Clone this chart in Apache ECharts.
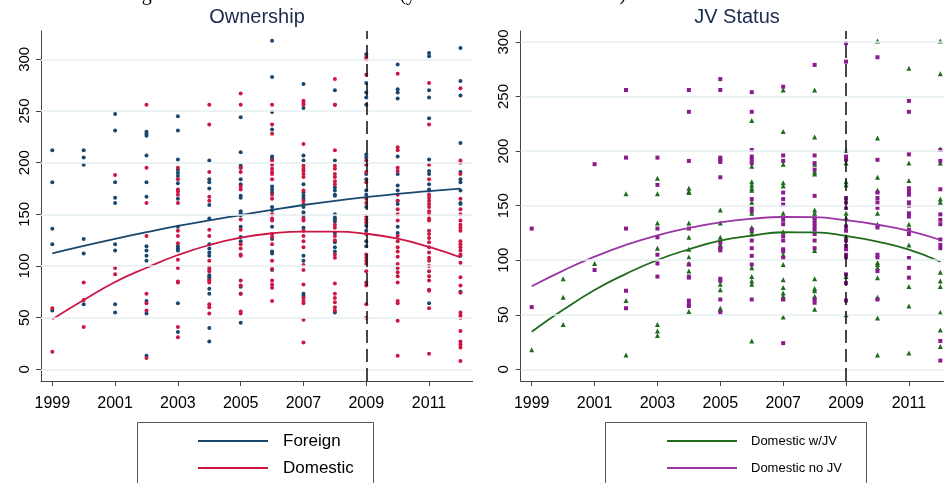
<!DOCTYPE html>
<html><head><meta charset="utf-8">
<script src="https://cdn.jsdelivr.net/npm/echarts@6/dist/echarts.min.js"></script>
<style>html,body{margin:0;padding:0;background:#fff;overflow:hidden}#c{width:944px;height:483px}</style>
</head><body><div id="c"></div>
<script>
const years = [1999,2000,2001,2002,2003,2004,2005,2006,2007,2008,2009,2010,2011,2012];
const xTicks = [1999,2001,2003,2005,2007,2009,2011];
const yTicks = [0,50,100,150,200,250,300];
const breakYear = 2009;
const legendLeft = ['Foreign','Domestic'];
const legendRight = ['Domestic w/JV','Domestic no JV'];

// Left panel: Ownership
const foreignPts = [
  [212,181,136,121,57],
  [212,205,198,126,112,63],
  [247,231,181,166,161,121,115,63,55],
  [230,228,226,207,181,167,119,115,110,105,66,54,13],
  [245,231,203,193,190,187,180,165,138,119,117,115,64,36],
  [202,184,181,175,159,146,121,117,113,110,91,89,87,78,73,40,27],
  [244,210,197,195,184,179,168,166,153,151,149,138,128,124,80,73,45],
  [318,283,249,232,206,204,177,174,171,157,154,138,126,114,112,96],
  [276,253,207,202,179,171,168,165,157,152,149,137,110,105,73,71],
  [270,256,202,176,173,169,168,150,147,145,143,132,123,118,114,55],
  [305,277,268,263,256,208,205,189,184,173,169,157,139,134,124,119],
  [295,271,268,262,206,189,178,173,163,160,138,132],
  [306,303,270,263,243,203,192,189,179,174,173,64],
  [311,279,265,219,191,184,181,173,161,160,110,75]
];
const domesticPts = [
  [59,17],
  [84,67,41],
  [188,98,92],
  [256,195,161,129,73,64,57,11],
  [195,184,174,172,169,161,134,129,122,106,98,85,84,41,31],
  [256,237,191,167,163,135,129,105,99,97,95,86,84,63,60,54],
  [267,256,195,191,177,174,145,135,121,117,111,110,86,81,73,56,54],
  [256,237,228,202,198,194,191,189,184,169,165,150,146,144,131,128,121,105,97,86,82,79,66],
  [260,258,256,218,197,194,192,189,186,173,163,160,146,144,134,129,124,118,101,96,82,69,66,64,48,26],
  [281,256,212,197,194,189,186,182,179,140,137,129,125,111,108,83,73,69,65,60,57],
  [302,300,285,202,198,191,181,165,161,148,145,142,131,111,108,105,102,95,84,81,63,50],
  [286,215,212,195,192,169,163,155,150,144,129,124,118,114,109,102,98,94,90,84,66,64,47,13],
  [277,237,198,184,169,166,163,160,157,153,150,146,144,134,131,127,123,118,113,108,105,100,95,90,86,77,76,59,15],
  [272,202,200,189,165,155,150,144,140,137,134,124,121,118,115,111,103,89,81,74,55,52,50,37,27,24,21,8]
];
const foreignFit  = [112.3,119.5,126.3,132.7,138.7,144.2,149.3,154.3,159.0,163.0,166.6,169.8,172.5,174.8];
const domesticFit = [48.4,67.0,84.5,98.3,110.6,120.3,127.4,131.6,133.2,133.2,131.2,126.4,118.4,108.4];

// Right panel: JV Status
const withJVPts = [
  [18],
  [83,66,41],
  [97],
  [161,63,13],
  [175,161,134,111,41,35,31],
  [166,163,162,134,121,110,103,97,90,53],
  [146,134,121,114,113,78,73,56,55],
  [228,186,172,169,166,164,153,143,130,127,124,93,85,81,78,26],
  [256,218,188,171,168,143,126,105,96,82,75,70,67,65,48],
  [256,213,188,181,179,146,143,140,109,83,74,72,67,55],
  [201,189,172,169,143,139,122,85,50],
  [301,212,176,164,143,133,98,96,93,84,66,47,13],
  [276,189,173,133,114,76,58,15],
  [301,271,202,189,156,153,89,81,76,52,36,21]
];
const noJVPts = [
  [129,57],
  [],
  [188,91],
  [256,194,129,72,56],
  [194,169,129,121,105,97,85],
  [256,236,191,129,96,85,84,63,60,58],
  [266,256,194,192,190,176,116,111,109,83,81,64,52],
  [254,236,201,195,192,189,156,148,145,128,118,111,104,96,64],
  [259,196,191,162,156,151,137,133,122,118,110,108,102,64,24],
  [279,196,189,183,159,137,134,131,128,124,118,111,64,61],
  [299,282,195,192,157,153,148,131,127,118,113,110,105,102,87,79,63],
  [286,192,162,157,153,148,130,105,102,90,64],
  [246,236,197,166,163,160,153,150,143,140,128,124,102,93,84],
  [201,191,165,142,137,133,119,114,111,26,8]
];
const withJVFit = [34.5,54.5,72.7,87.5,100.2,110.0,117.9,122.5,125.6,125.5,122.2,117.0,109.6,98.6];
const noJVFit   = [76.1,90.5,103.2,114.0,122.8,129.5,134.7,138.0,139.6,139.4,136.6,132.5,126.8,118.5];

const C = {foreign:'#1a476f', domestic:'#cc1744', green:'#1e6b1e', purple:'#8b1b8e', purpleLine:'#9a35a4', axis:'#444'};
const FONT = '"Liberation Sans", Arial, sans-serif';

function pts(arr){const o=[];arr.forEach((vals,i)=>vals.forEach(v=>o.push([years[i],v])));return o;}
function fit(arr){return years.map((y,i)=>[y,arr[i]]);}

function xAxis(gi,min,max){
  return {type:'value',gridIndex:gi,min:min,max:max,
    axisLine:{show:true,onZero:false,lineStyle:{color:C.axis,width:1}},
    axisTick:{show:true,customValues:xTicks,length:5,lineStyle:{color:C.axis}},
    axisLabel:{customValues:xTicks,formatter:v=>String(v),color:'#000',fontSize:16,fontFamily:FONT,margin:15},
    splitLine:{show:false}};
}
function yAxis(gi,min,max){
  return {type:'value',gridIndex:gi,min:min,max:max,
    axisLine:{show:true,onZero:false,lineStyle:{color:C.axis,width:1}},
    axisTick:{show:true,customValues:yTicks,length:5,lineStyle:{color:C.axis}},
    axisLabel:{customValues:yTicks,formatter:v=>String(v),rotate:90,color:'#000',fontSize:15,fontFamily:FONT,margin:9},
    splitLine:{show:false}};
}
function gridSeries(gi){
  return {type:'line',xAxisIndex:gi,yAxisIndex:gi,data:[[2000,0]],showSymbol:false,silent:true,
    lineStyle:{opacity:0},z:1,
    markLine:{silent:true,symbol:'none',label:{show:false},animation:false,
      lineStyle:{color:'#e6eff1',width:1.5,type:'solid'},
      data:yTicks.map(v=>({yAxis:v}))}};
}
function dashSeries(gi){
  return {type:'line',xAxisIndex:gi,yAxisIndex:gi,data:[[2000,0]],showSymbol:false,silent:true,
    lineStyle:{opacity:0},z:5,
    markLine:{silent:true,symbol:'none',label:{show:false},animation:false,
      lineStyle:{color:'#1a1a1a',width:1.6,type:[13,6]},
      data:[{xAxis:breakYear}]}};
}
function scatter(name,gi,data,color,symbol,size){
  return {name:name,type:'scatter',xAxisIndex:gi,yAxisIndex:gi,data:pts(data),symbol:symbol,symbolSize:size,
    itemStyle:{color:color,opacity:1},z:3,silent:true};
}
function fitLine(name,gi,data,color){
  return {name:name,type:'line',xAxisIndex:gi,yAxisIndex:gi,data:fit(data),smooth:true,showSymbol:false,
    lineStyle:{color:color,width:1.8},itemStyle:{color:color},z:4,silent:true};
}
function legendBox(x,w,names,colors,fontSize,lineX,textX){
  const els=[{type:'rect',shape:{x:x+0.5,y:422.5,width:w,height:90},style:{fill:'#fff',stroke:'#555',lineWidth:1},z:10}];
  names.forEach((n,i)=>{
    const y=441+i*27;
    els.push({type:'line',shape:{x1:lineX,y1:y,x2:lineX+70,y2:y},style:{stroke:colors[i],lineWidth:1.8},z:11});
    els.push({type:'text',x:textX,y:y,style:{text:n,font:fontSize+'px '+FONT,fill:'#000',verticalAlign:'middle'},z:11});
  });
  return els;
}

const chart = echarts.init(document.getElementById('c'),null,{renderer:'canvas'});
chart.setOption({
  animation:false,
  backgroundColor:'#fff',
  grid:[
    {left:41,top:31,width:431.7,height:350,outerBoundsMode:'none',containLabel:false},
    {left:520.7,top:31,width:431.9,height:350,outerBoundsMode:'none',containLabel:false}
  ],
  xAxis:[xAxis(0,1998.64,2012.39),xAxis(1,1998.65,2012.39)],
  yAxis:[yAxis(0,-11.32,327.4),yAxis(1,-10.72,310.07)],
  graphic:[
    {type:'text',x:257,y:17,style:{text:'Ownership',font:'20px '+FONT,fill:'#1c2a50',align:'center',verticalAlign:'middle'}},
    {type:'text',x:737,y:17,style:{text:'JV Status',font:'20px '+FONT,fill:'#1c2a50',align:'center',verticalAlign:'middle'}},
    {type:'text',x:125,y:5,style:{text:'Figure 3: Model Rank Relative to (year fixed effects removed)',font:'20px "Liberation Serif", serif',fill:'#000',align:'left',verticalAlign:'bottom'}}
  ].concat(
    legendBox(137,236,legendLeft,[C.foreign,C.domestic],17,198,283),
    legendBox(605,261,legendRight,[C.green,C.purpleLine],13,667,751)
  ),
  series:[
    gridSeries(0),gridSeries(1),
    scatter('Foreign pts',0,foreignPts,C.foreign,'circle',4),
    scatter('Domestic pts',0,domesticPts,C.domestic,'circle',4),
    scatter('w/JV pts',1,withJVPts,C.green,'triangle',5),
    scatter('no JV pts',1,noJVPts,C.purple,'rect',4),
    dashSeries(0),dashSeries(1),
    fitLine('Foreign',0,foreignFit,C.foreign),
    fitLine('Domestic',0,domesticFit,C.domestic),
    fitLine('Domestic w/JV',1,withJVFit,C.green),
    fitLine('Domestic no JV',1,noJVFit,C.purpleLine)
  ]
});
</script></body></html>
